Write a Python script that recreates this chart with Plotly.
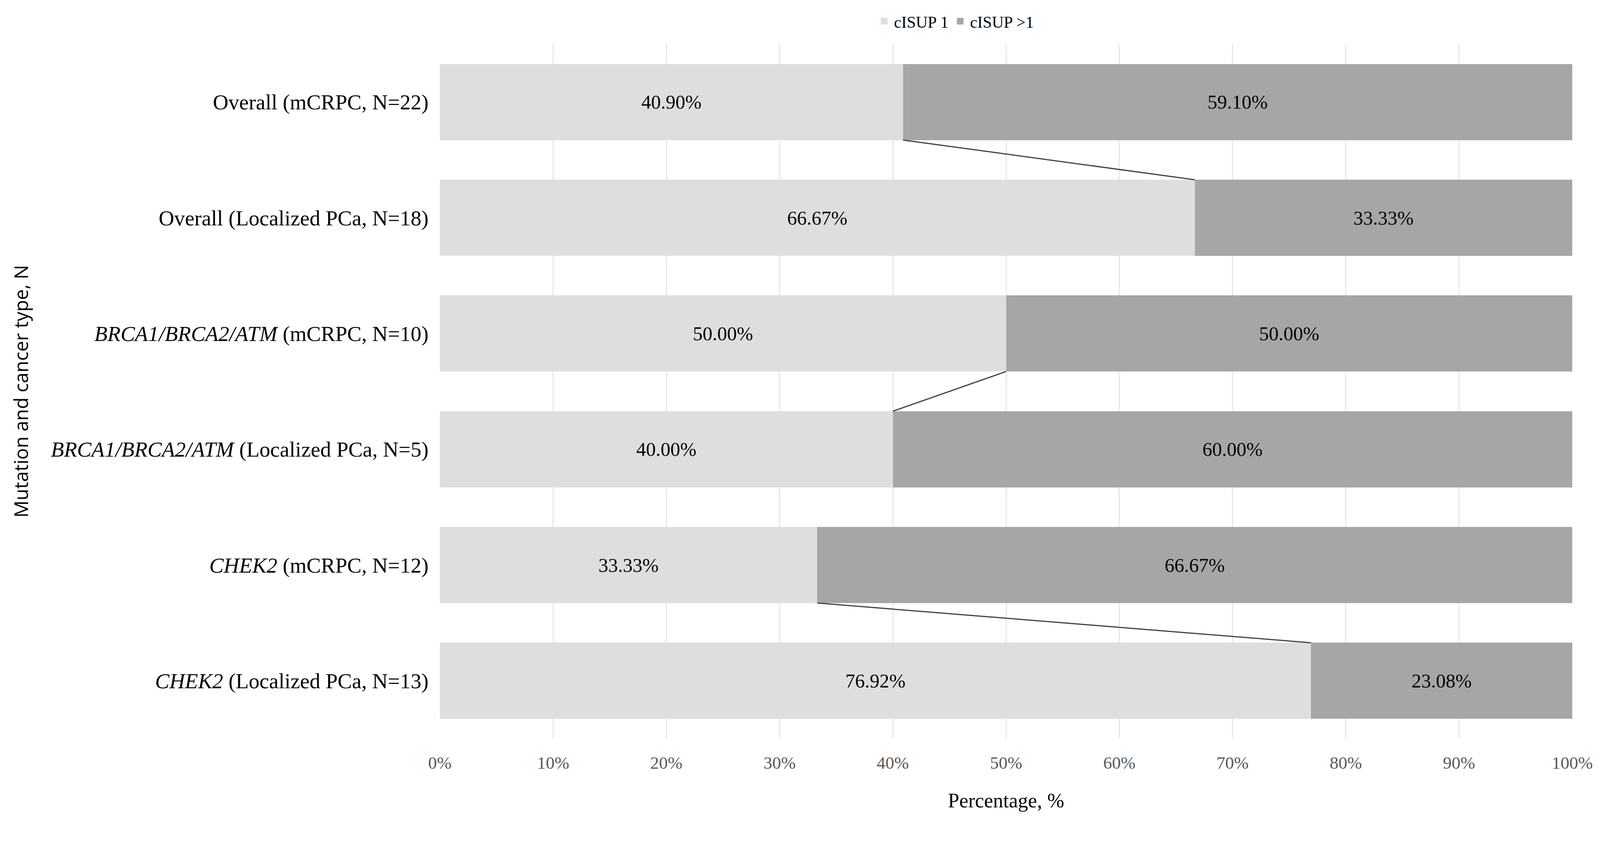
import plotly.graph_objects as go

categories = [
    "Overall (mCRPC, N=22)",
    "Overall (Localized PCa, N=18)",
    "<i>BRCA1/BRCA2/ATM</i> (mCRPC, N=10)",
    "<i>BRCA1/BRCA2/ATM</i> (Localized PCa, N=5)",
    "<i>CHEK2</i> (mCRPC, N=12)",
    "<i>CHEK2</i> (Localized PCa, N=13)",
]
cisup1 = [40.90, 66.67, 50.00, 40.00, 33.33, 76.92]
cisup_gt1 = [59.10, 33.33, 50.00, 60.00, 66.67, 23.08]
series_names = ["cISUP 1", "cISUP >1"]
series_colors = ["#DEDEDE", "#A6A6A6"]
x_ticks = [0, 10, 20, 30, 40, 50, 60, 70, 80, 90, 100]
connector_pairs = [(0, 1), (2, 3), (4, 5)]

SERIF = "Liberation Serif"
BAR_W = 0.657
ypos = list(range(len(categories)))

fig = go.Figure()
for vals, name, col in zip([cisup1, cisup_gt1], series_names, series_colors):
    fig.add_trace(go.Bar(
        y=ypos, x=vals, orientation="h", name=name, showlegend=False,
        marker=dict(color=col, line=dict(width=0)), width=BAR_W,
        texttemplate="%{x:.2f}%", textposition="inside", insidetextanchor="middle",
        textangle=0, textfont=dict(family=SERIF, size=50, color="black"),
        legendgroup=name,
    ))

# legend entries (larger swatches)
for name, col in zip(series_names, series_colors):
    fig.add_trace(go.Bar(
        y=[None], x=[None], orientation="h", name=name, showlegend=True,
        marker=dict(color=col, line=dict(color=col, width=5)),
        legendgroup=name, hoverinfo="skip",
    ))

for a, b in connector_pairs:
    fig.add_trace(go.Scatter(
        x=[cisup1[a], cisup1[b]],
        y=[ypos[a] + BAR_W / 2, ypos[b] - BAR_W / 2],
        mode="lines", line=dict(color="#404040", width=3),
        showlegend=False, hoverinfo="skip",
    ))

fig.update_layout(
    width=4081, height=2083,
    barmode="stack",
    plot_bgcolor="white", paper_bgcolor="white",
    margin=dict(l=1118, r=64, t=80, b=200),
    font=dict(family=SERIF, size=50, color="black"),
    legend=dict(
        orientation="h", x=0.455, xanchor="center", y=1.033, yanchor="middle",
        font=dict(family=SERIF, size=42, color="black"),
        itemwidth=40, traceorder="normal",
    ),
    showlegend=True,
)
fig.update_xaxes(
    range=[0, 100], tickvals=x_ticks, ticktext=[f"{v}%" for v in x_ticks],
    showgrid=True, gridcolor="#DDDDDD", gridwidth=2,
    zeroline=False, showline=False, ticks="",
    tickfont=dict(family=SERIF, size=45, color="#595959"),
    ticklabelstandoff=31,
    title=dict(text="Percentage, %", font=dict(family=SERIF, size=52, color="black"), standoff=53),
)
fig.update_yaxes(
    range=[len(categories) - 0.5, -0.5],
    tickvals=ypos, ticktext=categories,
    showgrid=False, zeroline=False, showline=False, ticks="",
    tickfont=dict(family=SERIF, size=55, color="black"),
    ticklabelstandoff=28,
)
fig.add_annotation(
    text="Mutation and cancer type, N", textangle=-90,
    xref="paper", yref="paper", x=-0.37, y=0.5,
    xanchor="center", yanchor="middle", showarrow=False,
    font=dict(family="Open Sans", size=49, color="black"),
)

fig.write_html("out.html")
